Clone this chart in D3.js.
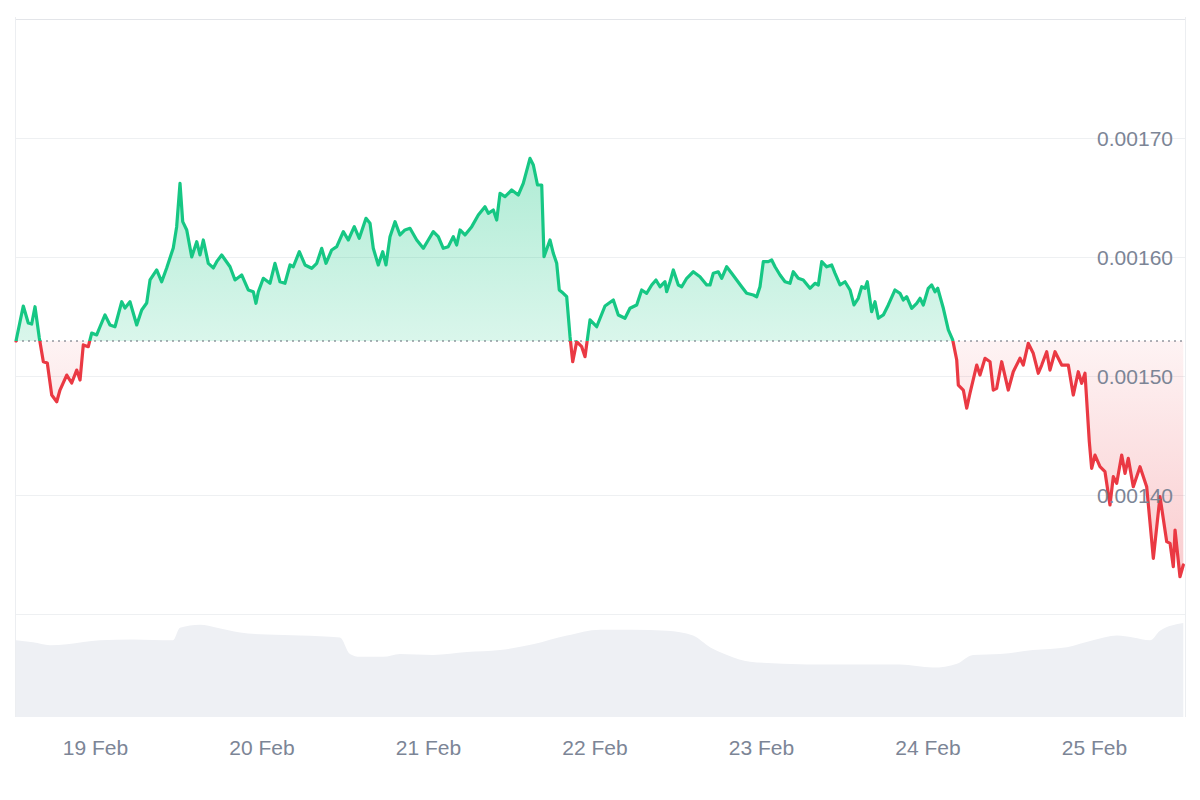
<!DOCTYPE html>
<html>
<head>
<meta charset="utf-8">
<script src="https://cdn.jsdelivr.net/npm/d3@7"></script>
<style>
  body { margin: 0; background: #fff; }
  text { font-family: "Liberation Sans", Arial, sans-serif; }
</style>
</head>
<body>
<script>

// hours after the first sample (18 Feb 12:37 UTC)
var priceHours = [
  0, 1.05, 1.77, 2.26, 2.74, 3.36, 3.94, 4.51, 5.15, 5.87,
  6.34, 7.31, 8.03, 8.75, 9.23, 9.70, 10.42, 10.91, 11.63, 12.11,
  12.83, 13.55, 14.27, 15.24, 15.71, 16.43, 17.40, 18.12, 18.84, 19.32,
  20.28, 21.00, 21.72, 22.67, 23.16, 23.64, 24.03, 24.61, 25.33, 26.05,
  26.52, 27.00, 27.72, 28.44, 28.93, 29.65, 30.85, 31.57, 32.53, 33.48,
  34.21, 34.59, 34.93, 35.65, 36.61, 37.33, 38.05, 38.77, 39.50, 39.97,
  40.84, 41.66, 42.62, 43.35, 44.07, 44.68, 45.51, 46.23, 47.18, 47.90,
  48.76, 49.48, 50.45, 51.03, 51.50, 52.22, 52.86, 53.33, 53.91, 54.63,
  55.35, 56.07, 56.79, 57.76, 58.71, 59.43, 60.15, 60.87, 61.59, 62.31,
  63.03, 63.52, 64.00, 64.72, 65.69, 66.64, 67.60, 68.08, 68.80, 69.29,
  69.77, 70.49, 71.45, 72.40, 73.12, 74.09, 74.57, 75.17, 75.78, 76.11,
  76.97, 77.45, 77.94, 78.31, 78.89, 79.38, 79.86, 80.25, 80.82, 81.54,
  82.02, 82.74, 83.70, 84.90, 86.10, 86.82, 87.78, 88.50, 89.47, 90.19,
  90.91, 91.63, 92.25, 92.83, 93.55, 93.79, 94.27, 94.75, 95.47, 95.96,
  96.68, 97.63, 98.59, 99.56, 100.04, 100.51, 101.23, 101.72, 102.44, 103.16,
  103.88, 104.60, 105.32, 106.28, 106.77, 107.24, 107.72, 108.44, 108.93, 109.41,
  110.13, 110.85, 111.57, 112.04, 112.76, 113.48, 114.45, 115.17, 115.65, 116.14,
  116.86, 117.58, 118.06, 118.78, 119.50, 120.22, 120.79, 121.41, 121.90, 122.38,
  122.71, 123.34, 123.82, 124.30, 125.02, 125.74, 126.70, 127.42, 127.90, 128.39,
  129.11, 129.83, 130.31, 130.78, 131.50, 131.99, 132.47, 132.86, 133.67, 134.39,
  135.02, 135.60, 135.83, 136.55, 137.04, 137.51, 138.48, 138.95, 139.68, 140.40,
  140.87, 141.36, 142.08, 143.03, 143.75, 144.72, 145.19, 145.91, 146.63, 147.36,
  147.85, 148.57, 149.04, 149.77, 150.73, 151.68, 152.40, 153.12, 153.61, 154.09,
  154.71, 155.05, 155.53, 156.25, 156.97, 157.69, 158.17, 158.66, 159.38, 159.86,
  160.33, 161.05, 162.02, 162.98, 163.94, 164.90, 165.87, 166.35, 166.82, 167.07,
  167.78, 168.26
];

var prices = [
  0.0015294, 0.0015588, 0.0015445, 0.0015437, 0.0015582, 0.0015319, 0.0015120, 0.0015109, 0.0014840, 0.0014784,
  0.0014882, 0.0015008, 0.0014941, 0.0015050, 0.0014966, 0.0015261, 0.0015246, 0.0015361, 0.0015345, 0.0015414,
  0.0015513, 0.0015429, 0.0015414, 0.0015624, 0.0015571, 0.0015624, 0.0015429, 0.0015555, 0.0015613, 0.0015807,
  0.0015891, 0.0015792, 0.0015908, 0.0016076, 0.0016255, 0.0016619, 0.0016297, 0.0016227, 0.0016000, 0.0016129,
  0.0016017, 0.0016143, 0.0015947, 0.0015908, 0.0015961, 0.0016017, 0.0015918, 0.0015807, 0.0015849, 0.0015723,
  0.0015708, 0.0015611, 0.0015708, 0.0015821, 0.0015779, 0.0015947, 0.0015792, 0.0015779, 0.0015933, 0.0015918,
  0.0016045, 0.0015933, 0.0015905, 0.0015947, 0.0016073, 0.0015947, 0.0016059, 0.0016087, 0.0016213, 0.0016143,
  0.0016255, 0.0016157, 0.0016325, 0.0016283, 0.0016073, 0.0015933, 0.0016045, 0.0015933, 0.0016171, 0.0016297,
  0.0016185, 0.0016227, 0.0016241, 0.0016143, 0.0016073, 0.0016143, 0.0016213, 0.0016171, 0.0016073, 0.0016087,
  0.0016171, 0.0016101, 0.0016227, 0.0016185, 0.0016255, 0.0016353, 0.0016423, 0.0016367, 0.0016395, 0.0016311,
  0.0016535, 0.0016507, 0.0016563, 0.0016521, 0.0016619, 0.0016829, 0.0016773, 0.0016605, 0.0016605, 0.0016003,
  0.0016143, 0.0016031, 0.0015947, 0.0015723, 0.0015695, 0.0015666, 0.0015330, 0.0015120, 0.0015288, 0.0015246,
  0.0015162, 0.0015471, 0.0015414, 0.0015588, 0.0015639, 0.0015513, 0.0015485, 0.0015569, 0.0015597, 0.0015723,
  0.0015695, 0.0015765, 0.0015807, 0.0015750, 0.0015792, 0.0015708, 0.0015792, 0.0015891, 0.0015765, 0.0015750,
  0.0015821, 0.0015876, 0.0015834, 0.0015765, 0.0015765, 0.0015863, 0.0015876, 0.0015821, 0.0015918, 0.0015863,
  0.0015807, 0.0015750, 0.0015695, 0.0015681, 0.0015666, 0.0015750, 0.0015961, 0.0015961, 0.0015975, 0.0015918,
  0.0015849, 0.0015792, 0.0015779, 0.0015876, 0.0015821, 0.0015807, 0.0015737, 0.0015779, 0.0015765, 0.0015961,
  0.0015918, 0.0015933, 0.0015863, 0.0015765, 0.0015792, 0.0015723, 0.0015597, 0.0015653, 0.0015750, 0.0015737,
  0.0015792, 0.0015540, 0.0015624, 0.0015485, 0.0015513, 0.0015597, 0.0015723, 0.0015695, 0.0015639, 0.0015666,
  0.0015569, 0.0015611, 0.0015653, 0.0015597, 0.0015737, 0.0015765, 0.0015708, 0.0015737, 0.0015569, 0.0015387,
  0.0015303, 0.0015134, 0.0014924, 0.0014882, 0.0014729, 0.0014855, 0.0015092, 0.0015008, 0.0015149, 0.0015120,
  0.0014882, 0.0014897, 0.0015120, 0.0014882, 0.0015036, 0.0015149, 0.0015092, 0.0015275, 0.0015191, 0.0015023,
  0.0015092, 0.0015204, 0.0015050, 0.0015204, 0.0015092, 0.0015092, 0.0014840, 0.0015036, 0.0014939, 0.0015023,
  0.0014448, 0.0014224, 0.0014336, 0.0014238, 0.0014196, 0.0013916, 0.0014154, 0.0014098, 0.0014336, 0.0014182,
  0.0014308, 0.0014070, 0.0014238, 0.0014070, 0.0013468, 0.0013986, 0.0013608, 0.0013594, 0.0013397, 0.0013706,
  0.0013313, 0.0013412
];

// volume (relative units) sampled along the same hours axis
var volumeHours = [0, 2.45, 4.90, 7.35, 12.11, 16.86, 22.63, 23.64, 26.52, 28.97,
  32.29, 36.18, 40.94, 46.70, 48.14, 49.59, 52.90, 55.35, 60.11, 65.01,
  69.77, 74.52, 79.42, 84.18, 88.94, 93.84, 97.59, 100.04, 102.49, 105.80,
  110.56, 117.77, 127.42, 132.18, 135.64, 137.95, 141.84, 146.59, 151.50, 155.24,
  158.70, 161.01, 163.46, 164.90, 168.26];
var volumes = [79, 77, 74, 75, 79, 80, 79, 92, 95, 92,
  87, 85, 84, 82, 65, 62, 62, 65, 64, 67,
  69, 75, 84, 90, 90, 89, 84, 72, 64, 57,
  55, 54, 54, 51, 55, 64, 65, 69, 72, 79,
  84, 82, 79, 89, 97];

var yTicks = [0.0014, 0.0015, 0.0016, 0.0017];
var yGrid = [0.0013, 0.0014, 0.0015, 0.0016, 0.0017, 0.0018];

var startTime = Date.UTC(2025, 1, 18, 12, 37);
var hourMs = 3600 * 1000;
var toDate = function (h) { return new Date(startTime + h * hourMs); };

var W = 1200, H = 800;
var left = 15, right = 1185, bottom = 717;

var svg = d3.select("body").append("svg")
  .attr("width", W)
  .attr("height", H);

svg.append("rect").attr("width", W).attr("height", H).attr("fill", "#fff");

var x = d3.scaleUtc()
  .domain([toDate(0), toDate(168.3)])
  .range([16, 16 + 168.3 * 6.9375]);

var y = d3.scaleLinear()
  .domain([0.0013, 0.0018])
  .range([614, 19]);

var yVol = d3.scaleLinear()
  .domain([0, 100])
  .range([bottom, 620]);

var points = priceHours.map(function (h, i) { return { t: toDate(h), p: prices[i] }; });
var volPoints = volumeHours.map(function (h, i) { return { t: toDate(h), v: volumes[i] }; });
var base = prices[0];
var yBase = y(base);

// volume area
svg.append("path")
  .datum(volPoints)
  .attr("fill", "#eef0f4")
  .attr("d", d3.area()
    .x(function (d) { return x(d.t); })
    .y0(bottom)
    .y1(function (d) { return yVol(d.v); })
    .curve(d3.curveMonotoneX));

// grid
svg.append("g").selectAll("line").data(yGrid).enter()
  .append("line")
  .attr("x1", left).attr("x2", right)
  .attr("y1", function (d) { return Math.round(y(d)) + 0.5; })
  .attr("y2", function (d) { return Math.round(y(d)) + 0.5; })
  .attr("stroke", function (d) { return d === 0.0018 ? "#e3e5e9" : "#eef0f2"; })
  .attr("stroke-width", 1);

svg.append("line")
  .attr("x1", left + 0.5).attr("x2", left + 0.5).attr("y1", 17).attr("y2", bottom)
  .attr("stroke", "#eceef1");
svg.append("line")
  .attr("x1", right + 0.5).attr("x2", right + 0.5).attr("y1", 17).attr("y2", bottom)
  .attr("stroke", "#eceef1");

// gradients and clips for above / below the opening price
var defs = svg.append("defs");
var gUp = defs.append("linearGradient").attr("id", "gUp")
  .attr("gradientUnits", "userSpaceOnUse")
  .attr("x1", 0).attr("x2", 0).attr("y1", y(0.00168)).attr("y2", yBase);
gUp.append("stop").attr("offset", 0).attr("stop-color", "#16c784").attr("stop-opacity", 0.34);
gUp.append("stop").attr("offset", 1).attr("stop-color", "#16c784").attr("stop-opacity", 0.16);

var gDown = defs.append("linearGradient").attr("id", "gDown")
  .attr("gradientUnits", "userSpaceOnUse")
  .attr("x1", 0).attr("x2", 0).attr("y1", yBase).attr("y2", y(0.00133));
gDown.append("stop").attr("offset", 0).attr("stop-color", "#ea3943").attr("stop-opacity", 0.06);
gDown.append("stop").attr("offset", 1).attr("stop-color", "#ea3943").attr("stop-opacity", 0.26);

defs.append("clipPath").attr("id", "clipUp").append("rect")
  .attr("x", 0).attr("y", 0).attr("width", W).attr("height", yBase);
defs.append("clipPath").attr("id", "clipDown").append("rect")
  .attr("x", 0).attr("y", yBase).attr("width", W).attr("height", H - yBase);

var area = d3.area()
  .x(function (d) { return x(d.t); })
  .y0(yBase)
  .y1(function (d) { return y(d.p); });

var line = d3.line()
  .x(function (d) { return x(d.t); })
  .y(function (d) { return y(d.p); });

svg.append("path").datum(points)
  .attr("clip-path", "url(#clipUp)")
  .attr("fill", "url(#gUp)")
  .attr("d", area);
svg.append("path").datum(points)
  .attr("clip-path", "url(#clipDown)")
  .attr("fill", "url(#gDown)")
  .attr("d", area);

// dotted opening price line
svg.append("line")
  .attr("x1", 16).attr("x2", right)
  .attr("y1", yBase).attr("y2", yBase)
  .attr("stroke", "#5f6672")
  .attr("stroke-width", 1.2)
  .attr("stroke-dasharray", "2,4");

svg.append("path").datum(points)
  .attr("clip-path", "url(#clipUp)")
  .attr("fill", "none")
  .attr("stroke", "#16c784")
  .attr("stroke-width", 3.2)
  .attr("stroke-linejoin", "round")
  .attr("stroke-linecap", "round")
  .attr("d", line);
svg.append("path").datum(points)
  .attr("clip-path", "url(#clipDown)")
  .attr("fill", "none")
  .attr("stroke", "#ea3943")
  .attr("stroke-width", 3.2)
  .attr("stroke-linejoin", "round")
  .attr("stroke-linecap", "round")
  .attr("d", line);

// y labels, drawn inside the plot on the right
svg.append("g").selectAll("text").data(yTicks).enter()
  .append("text")
  .attr("x", 1173)
  .attr("y", function (d) { return y(d); })
  .attr("dy", "0.36em")
  .attr("text-anchor", "end")
  .attr("fill", "#7c8596")
  .style("font-size", "21px")
  .text(function (d) { return d3.format(".5f")(d); });

// x axis
var xAxis = d3.axisBottom(x)
  .ticks(d3.utcDay.every(1))
  .tickFormat(d3.utcFormat("%-d %b"))
  .tickSize(0)
  .tickPadding(0);

var gx = svg.append("g")
  .attr("transform", "translate(0,740)")
  .call(xAxis);
gx.select(".domain").remove();
gx.selectAll("text")
  .attr("fill", "#7c8596")
  .attr("dy", "0.71em")
  .style("font-size", "21px")
  .style("font-family", "'Liberation Sans', Arial, sans-serif");

</script>
</body>
</html>
